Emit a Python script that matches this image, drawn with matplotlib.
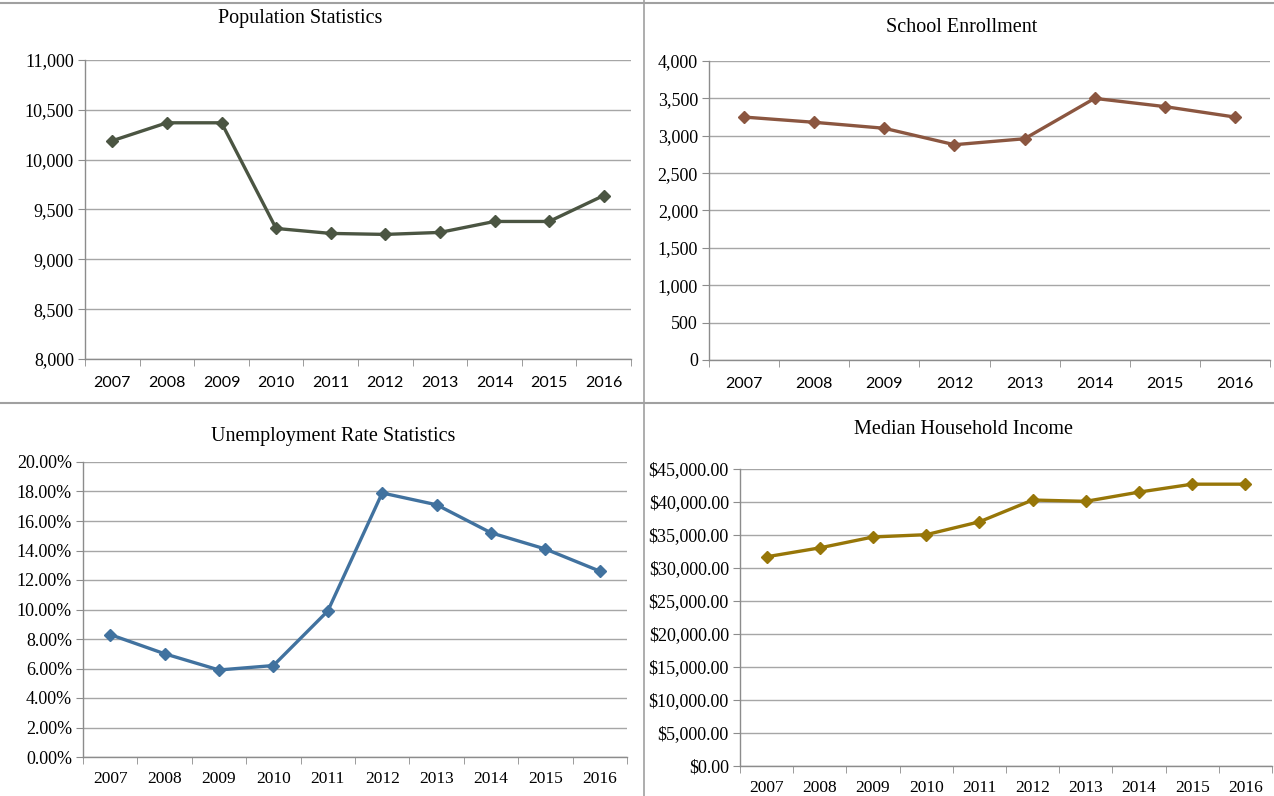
# Four community indicator panels, 2007-2016

import matplotlib.pyplot as plt
from matplotlib.lines import Line2D
from matplotlib.ticker import FuncFormatter, FixedLocator

# ---- data ----
years_all = ['2007', '2008', '2009', '2010', '2011', '2012', '2013', '2014', '2015', '2016']
years_school = ['2007', '2008', '2009', '2012', '2013', '2014', '2015', '2016']

population = [10190, 10370, 10370, 9310, 9260, 9250, 9270, 9380, 9380, 9640]
enrollment = [3250, 3180, 3100, 2880, 2960, 3500, 3390, 3250]
unemployment = [8.3, 7.0, 5.9, 6.2, 9.9, 17.9, 17.1, 15.2, 14.1, 12.6]
income = [31700, 33050, 34700, 35050, 37000, 40300, 40100, 41500, 42700, 42700]

W, H = 1274, 796
fig = plt.figure(figsize=(W / 100, H / 100), dpi=100)
fig.patch.set_facecolor('white')

SERIF = 'Liberation Serif'
SANS = 'Lato'


def box(left, right, top, bottom):
    # pixel box (origin top-left) -> figure fraction rect
    return [left / W, 1 - bottom / H, (right - left) / W, (bottom - top) / H]


def panel(rect, labels, values, color, title, title_xy, ylim, step, fmt, xfont, xsize, xpad):
    ax = fig.add_axes(rect)
    n = len(labels)
    x = list(range(n))
    ax.plot(x, values, color=color, lw=2.4, marker='D', ms=6, mfc=color, mec=color, zorder=3)
    ax.set_xlim(-0.5, n - 0.5)
    ax.set_ylim(*ylim)
    ticks = []
    v = ylim[0]
    while v <= ylim[1] + 1e-9:
        ticks.append(v)
        v += step
    ax.yaxis.set_major_locator(FixedLocator(ticks))
    ax.yaxis.set_major_formatter(FuncFormatter(fmt))
    ax.grid(axis='y', color='#a6a6a6', lw=1.0)
    ax.set_axisbelow(True)
    for s in ['top', 'right']:
        ax.spines[s].set_visible(False)
    for s in ['left', 'bottom']:
        ax.spines[s].set_color('#8c8c8c')
        ax.spines[s].set_linewidth(1.0)

    # category labels centered, tick marks on the boundaries
    ax.set_xticks(x)
    ax.set_xticklabels(labels, fontfamily=xfont, fontsize=xsize, color='black')
    ax.tick_params(axis='x', which='major', length=0, pad=xpad)
    ax.set_xticks([i - 0.5 for i in range(n + 1)], minor=True)
    ax.tick_params(axis='x', which='minor', length=5, color='#8c8c8c', direction='out')
    ax.tick_params(axis='y', length=5, color='#8c8c8c', pad=3)
    for t in ax.get_yticklabels():
        t.set_fontfamily(SERIF)
        t.set_fontsize(13)
    fig.text(title_xy[0] / W, 1 - title_xy[1] / H, title, ha='center', va='center',
             fontfamily=SERIF, fontsize=14.5)
    return ax


panel(box(85, 631, 60, 359), years_all, population, '#4b5542', 'Population Statistics',
      (300, 18), (8000, 11000), 500, lambda v, p: f'{v:,.0f}', SANS, 11.5, 12)

panel(box(709, 1270, 61, 360), years_school, enrollment, '#8b5640', 'School Enrollment',
      (962, 28), (0, 4000), 500, lambda v, p: f'{v:,.0f}', SANS, 11.5, 12)

panel(box(83, 627, 462, 757), years_all, unemployment, '#41729f', 'Unemployment Rate Statistics',
      (333, 436), (0, 20), 2, lambda v, p: f'{v:.2f}%', SERIF, 12.5, 10)

panel(box(740, 1272, 469, 766), years_all, income, '#977608', 'Median Household Income',
      (963, 429), (0, 45000), 5000, lambda v, p: f'${v:,.2f}', SERIF, 12.5, 10)

# panel frame lines
fig.add_artist(Line2D([0, 1], [1 - 3 / H, 1 - 3 / H], transform=fig.transFigure, color='#a0a0a0', lw=1.5))
fig.add_artist(Line2D([0, 1], [1 - 402.5 / H, 1 - 402.5 / H], transform=fig.transFigure, color='#a0a0a0', lw=1.5))
fig.add_artist(Line2D([644 / W, 644 / W], [0, 1], transform=fig.transFigure, color='#a0a0a0', lw=1.2))

fig.savefig('out.png', dpi=100)
